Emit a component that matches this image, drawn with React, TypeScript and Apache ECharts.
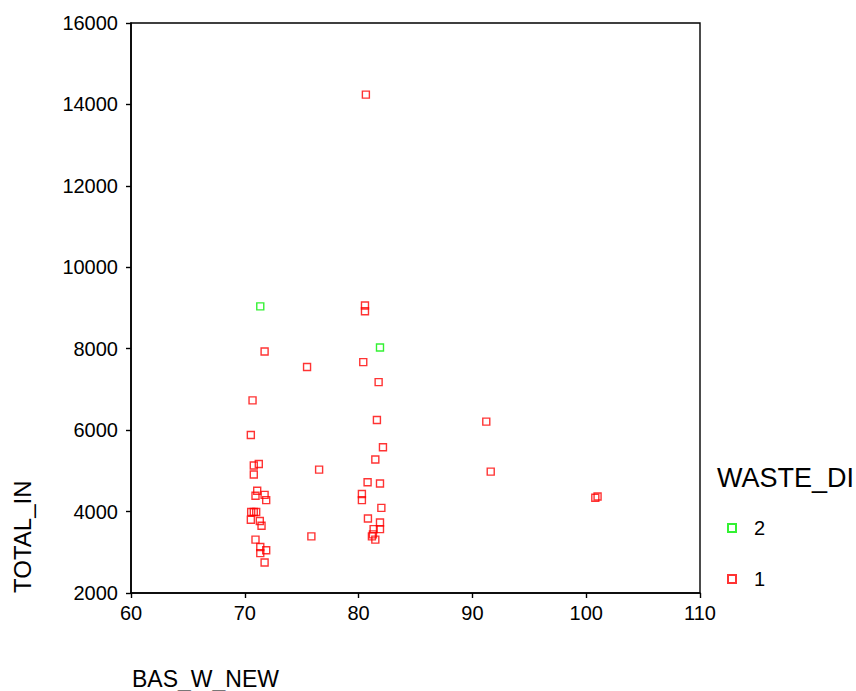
import React, { useEffect, useRef } from "react";
import * as echarts from "echarts";

// BAS_W_NEW vs TOTAL_IN, grouped by WASTE_DI
const wasteDi1X = [
  80.64, 80.56, 80.56, 71.74, 75.47, 80.41, 81.76, 70.68, 81.61, 91.22, 70.53, 82.14,
  81.47, 71.23, 70.79, 70.79, 76.53, 91.61, 80.79, 81.88, 71.09, 70.94, 71.74, 71.88,
  80.29, 80.29, 100.8, 101.0, 82.0, 70.56, 70.79, 71.0, 70.53, 71.32, 71.47, 80.82,
  81.88, 81.88, 81.32, 81.26, 81.17, 81.47, 75.85, 70.94, 71.36, 71.88, 71.36, 71.74,
];
const wasteDi1Y = [
  14240, 9060, 8920, 7930, 7550, 7670, 7180, 6730, 6250, 6210, 5880, 5580,
  5280, 5170, 5130, 4910, 5030, 4980, 4720, 4690, 4510, 4390, 4410, 4280,
  4430, 4280, 4340, 4370, 4090, 3990, 3990, 3990, 3800, 3770, 3650, 3830,
  3730, 3570, 3570, 3440, 3390, 3310, 3390, 3310, 3130, 3050, 2980, 2750,
];
const wasteDi2X = [71.36, 81.88];
const wasteDi2Y = [9040, 8030];

const xTicks = [60, 70, 80, 90, 100, 110];
const yTicks = [2000, 4000, 6000, 8000, 10000, 12000, 14000, 16000];

const FONT = "'Liberation Sans', Arial, Helvetica, sans-serif";
const RED = "#ff0000";
const GREEN = "#00ee00";

const pairs = (xs: number[], ys: number[]) => xs.map((x, i) => [x, ys[i]]);

export default function App() {
  const ref = useRef<HTMLDivElement>(null);

  useEffect(() => {
    document.body.style.margin = "0";
    if (!ref.current) return;
    const chart = echarts.init(ref.current, undefined, { renderer: "svg" });

    const axisLine = { show: true, lineStyle: { color: "#000", width: 1.6 } };
    const axisLabel = {
      color: "#000",
      fontFamily: FONT,
      fontSize: 20,
      formatter: (v: number) => String(v),
    };

    chart.setOption({
      animation: false,
      backgroundColor: "#fff",
      grid: {
        left: 131,
        top: 23,
        right: 156,
        bottom: 98,
        show: true,
        borderColor: "#000",
        borderWidth: 1.4,
        backgroundColor: "transparent",
      },
      xAxis: {
        type: "value",
        min: xTicks[0],
        max: xTicks[xTicks.length - 1],
        interval: 10,
        axisLine,
        axisTick: { show: true, length: 5, lineStyle: { color: "#000", width: 1.4 } },
        axisLabel: { ...axisLabel, margin: 10 },
        splitLine: { show: false },
      },
      yAxis: {
        type: "value",
        min: yTicks[0],
        max: yTicks[yTicks.length - 1],
        interval: 2000,
        axisLine,
        axisTick: { show: true, length: 5, lineStyle: { color: "#000", width: 1.4 } },
        axisLabel: { ...axisLabel, margin: 13 },
        splitLine: { show: false },
      },
      legend: {
        data: ["2", "1"],
        orient: "vertical",
        left: 722,
        top: 513,
        itemWidth: 8,
        itemHeight: 8,
        itemGap: 31,
        icon: "rect",
        textStyle: { color: "#000", fontFamily: FONT, fontSize: 20, padding: [0, 0, 0, 13] },
      },
      graphic: [
        {
          type: "text",
          left: 717,
          top: 464,
          style: { text: "WASTE_DI", fill: "#000", font: `27px ${FONT}` },
        },
        {
          type: "text",
          left: 132,
          top: 667,
          style: { text: "BAS_W_NEW", fill: "#000", font: `23px ${FONT}` },
        },
        {
          type: "text",
          x: 10,
          y: 593,
          rotation: Math.PI / 2,
          style: { text: "TOTAL_IN", fill: "#000", font: `24px ${FONT}`, align: "left", verticalAlign: "top" },
        },
      ],
      series: [
        {
          name: "2",
          type: "scatter",
          symbol: "rect",
          symbolSize: 7,
          itemStyle: { color: "#fff", borderColor: GREEN, borderWidth: 1.4 },
          data: pairs(wasteDi2X, wasteDi2Y),
        },
        {
          name: "1",
          type: "scatter",
          symbol: "rect",
          symbolSize: 7,
          itemStyle: { color: "rgba(255,255,255,0)", borderColor: RED, borderWidth: 1.4 },
          data: pairs(wasteDi1X, wasteDi1Y),
        },
      ],
    });

    return () => chart.dispose();
  }, []);

  return <div ref={ref} style={{ width: 856, height: 691 }} />;
}
